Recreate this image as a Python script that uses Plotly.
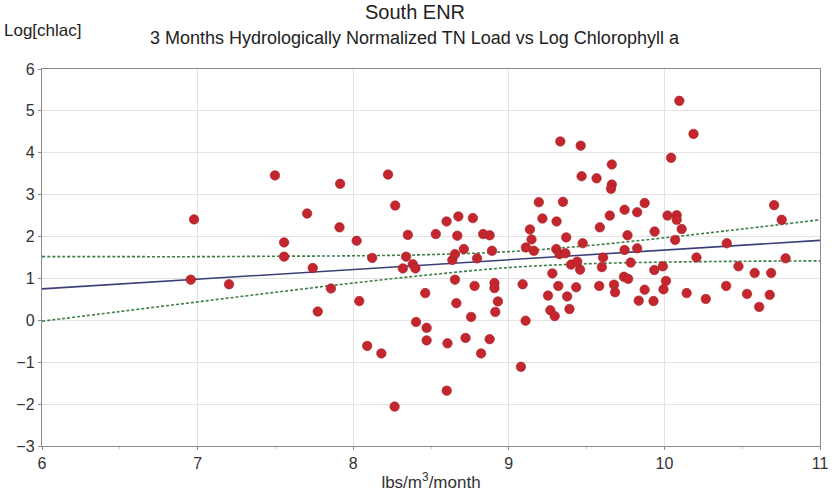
import plotly.graph_objects as go

# Scatter data: 3-month hydrologically normalized TN load (x) vs log chlorophyll a (y)
tn_load = [6.977, 7.497, 7.704, 7.916, 7.912, 7.556, 7.556, 7.74, 6.956, 7.202, 7.857, 7.772,
           8.224, 8.27, 8.60, 8.676, 8.022, 8.351, 8.531, 8.669, 8.122, 8.34, 8.383, 8.637,
           8.654, 8.711, 8.319, 8.40, 8.654, 8.463, 8.039, 8.663, 8.404, 8.472, 8.472, 8.606,
           8.722, 8.09, 8.181, 8.601, 8.266, 9.331, 9.462, 9.662, 9.468, 9.564, 9.662, 9.657,
           9.193, 9.348, 9.873, 8.769, 9.216, 9.307, 9.744, 9.825, 9.649, 9.585, 9.136, 8.835,
           8.877, 9.369, 9.763, 9.146, 9.11, 8.892, 9.161, 9.475, 9.305, 9.326, 9.364, 9.744,
           9.825, 8.796, 9.606, 9.40, 9.44, 9.783, 9.458, 9.598, 9.28, 8.78, 8.908, 8.908,
           9.089, 9.318, 9.433, 9.581, 9.676, 9.683, 9.74, 9.767, 9.873, 9.835, 9.252, 9.375,
           8.93, 8.913, 9.39, 9.267, 9.295, 8.758, 9.108, 8.877, 8.822, 9.078, 10.096, 10.187,
           10.043, 10.705, 10.754, 10.02, 10.079, 10.079, 10.111, 9.937, 10.069, 10.401, 10.206,
           10.779, 10.476, 9.99, 9.935, 10.58, 10.686, 10.01, 9.994, 9.93, 10.143, 10.266,
           10.397, 10.531, 10.677, 10.609]
log_chla = [2.41, 3.46, 2.55, 3.26, 2.22, 1.86, 1.52, 1.25, 0.97, 0.86, 0.76, 0.21,
            3.48, 2.74, 2.36, 2.48, 1.90, 2.04, 2.06, 2.02, 1.49, 1.52, 1.34, 1.44,
            1.58, 1.70, 1.24, 1.24, 0.97, 0.65, 0.46, 0.41, -0.04, -0.18, -0.48, -0.55,
            -0.42, -0.61, -0.79, -1.68, -2.06, 4.27, 4.17, 3.72, 3.44, 3.39, 3.24, 3.14,
            2.82, 2.83, 2.80, 2.44, 2.43, 2.36, 2.64, 2.58, 2.50, 2.22, 2.17, 2.06,
            2.03, 1.98, 2.03, 1.93, 1.74, 1.66, 1.66, 1.84, 1.70, 1.58, 1.60, 1.68,
            1.72, 1.48, 1.50, 1.33, 1.40, 1.38, 1.21, 1.27, 1.12, 0.82, 0.89, 0.77,
            0.86, 0.82, 0.79, 0.82, 0.85, 0.67, 1.04, 0.99, 0.73, 0.47, 0.59, 0.57,
            0.45, 0.20, 0.27, 0.24, 0.10, 0.08, -0.01, -0.45, -0.79, -1.11, 5.24, 4.45,
            3.88, 2.75, 2.40, 2.50, 2.51, 2.40, 2.18, 2.12, 1.92, 1.84, 1.50,
            1.48, 1.29, 1.29, 1.20, 1.13, 1.13, 0.94, 0.74, 0.46, 0.65, 0.51,
            0.82, 0.63, 0.61, 0.32]

# Regression line and confidence band
fit_x = [6, 11]
fit_y = [0.75, 1.91]
band_x = [6, 6.5, 7, 7.5, 8, 8.5, 9, 9.5, 10, 10.5, 11]
band_upper = [1.52, 1.52, 1.52, 1.53, 1.54, 1.57, 1.64, 1.78, 1.97, 2.18, 2.40]
band_lower = [-0.02, 0.21, 0.44, 0.67, 0.89, 1.09, 1.26, 1.35, 1.39, 1.41, 1.42]

x_ticks = [6, 7, 8, 9, 10, 11]
y_ticks = [-3, -2, -1, 0, 1, 2, 3, 4, 5, 6]

FONT = "Liberation Sans, Arial, sans-serif"
GREEN = "#3f7f4a"
NAVY = "#3b3f78"
TXT = "#333333"

fig = go.Figure()
fig.add_trace(go.Scatter(x=band_x, y=band_upper, mode="lines",
                         line=dict(color=GREEN, width=1.6, dash="3px,2px", shape="spline"),
                         hoverinfo="skip"))
fig.add_trace(go.Scatter(x=band_x, y=band_lower, mode="lines",
                         line=dict(color=GREEN, width=1.6, dash="3px,2px", shape="spline"),
                         hoverinfo="skip"))
fig.add_trace(go.Scatter(x=fit_x, y=fit_y, mode="lines",
                         line=dict(color=NAVY, width=1.6)))
fig.add_trace(go.Scatter(x=tn_load, y=log_chla, mode="markers",
                         marker=dict(color="#c4262e", size=9.5,
                                     line=dict(color="#a81e26", width=0.6))))

axis_common = dict(showline=True, linecolor="#8a8a8a", linewidth=1.4, mirror=True,
                   showgrid=True, gridcolor="#e3e3e3", gridwidth=1, zeroline=False,
                   ticks="outside", ticklen=3, tickcolor="#8a8a8a",
                   tickfont=dict(family=FONT, size=16, color=TXT))

fig.update_layout(
    width=836, height=496,
    margin=dict(l=42, r=8, t=69, b=47),
    paper_bgcolor="white", plot_bgcolor="white",
    showlegend=False,
    xaxis=dict(range=[6, 11], tickvals=x_ticks, **axis_common,
               minor=dict(dtick=0.5, ticks="outside", ticklen=2, tickcolor="#c8c8c8",
                          showgrid=False),
               title=dict(text="lbs/m<sup>3</sup>/month", standoff=4,
                          font=dict(family=FONT, size=17, color=TXT))),
    yaxis=dict(range=[-3, 6], tickvals=y_ticks, **axis_common),
    annotations=[
        dict(text="South ENR", xref="paper", yref="paper", x=0.479, y=1.151,
             xanchor="center", yanchor="middle", showarrow=False,
             font=dict(family=FONT, size=20, color="#222222")),
        dict(text="3 Months Hydrologically Normalized TN Load vs Log Chlorophyll a",
             xref="paper", yref="paper", x=0.479, y=1.083,
             xanchor="center", yanchor="middle", showarrow=False,
             font=dict(family=FONT, size=18, color="#222222")),
        dict(text="Log[chlac]", xref="paper", yref="paper", x=-0.051, y=1.101,
             xanchor="left", yanchor="middle", showarrow=False,
             font=dict(family=FONT, size=17, color="#222222")),
    ],
)

fig.write_html("out.html", config={"displayModeBar": False},
               post_script="document.body.style.margin='0';")
